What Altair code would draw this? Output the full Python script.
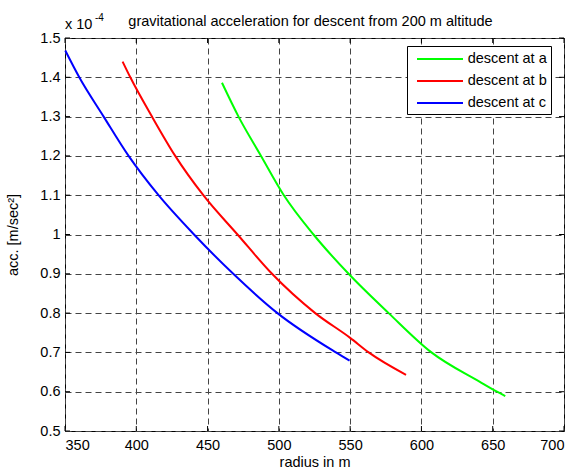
import altair as alt
import pandas as pd

# ---- data (acceleration in units of 1e-4 m/sec^2) ----
series_names = ["descent at a", "descent at b", "descent at c"]
series_colors = ["#00ff00", "#ff0000", "#0000ff"]

radius_a = [460.1, 471.7, 487.5, 503.5, 524.3, 548.9, 577.0, 607.0, 641.0, 653.0, 658.8]
acc_a = [1.386, 1.30, 1.20, 1.10, 1.00, 0.90, 0.80, 0.70, 0.625, 0.60, 0.589]

radius_b = [390.4, 395.8, 411.0, 427.3, 447.0, 471.0, 495.2, 525.5, 550.0, 563.0, 589.2]
acc_b = [1.440, 1.40, 1.30, 1.20, 1.10, 1.00, 0.90, 0.80, 0.737, 0.70, 0.643]

radius_c = [350.2, 360.0, 377.1, 394.6, 415.6, 440.5, 468.0, 499.0, 540.0, 549.6]
acc_c = [1.468, 1.40, 1.30, 1.20, 1.10, 1.00, 0.90, 0.80, 0.70, 0.679]

x_ticks = [350, 400, 450, 500, 550, 600, 650, 700]
y_ticks = [0.5, 0.6, 0.7, 0.8, 0.9, 1.0, 1.1, 1.2, 1.3, 1.4, 1.5]

title_text = "gravitational acceleration for descent from 200 m altitude"
x_title = "radius in m"
y_title = "acc. [m/sec²]"

# ---- tables built from the arrays ----
rows = []
for name, rs, accs in zip(series_names, [radius_a, radius_b, radius_c], [acc_a, acc_b, acc_c]):
    for r, a in zip(rs, accs):
        rows.append({"series": name, "radius": r, "acc": a})
df = pd.DataFrame(rows)
xt = pd.DataFrame({"v": x_ticks})
yt = pd.DataFrame({"v": y_ticks})

W, H = 499, 393
FONT = "Liberation Sans"
FS = 14.5
TL = 5  # inward tick length

xscale = alt.Scale(domain=[350, 700], nice=False, zero=False)
yscale = alt.Scale(domain=[0.5, 1.5], nice=False, zero=False)
x_axis = alt.Axis(values=x_ticks, title=x_title, format=".6~g", labelPadding=7, titlePadding=4)
y_axis = alt.Axis(values=y_ticks, title=y_title, format=".6~g", labelPadding=5, titlePadding=19)

lines = alt.Chart(df).mark_line(strokeWidth=2, interpolate="monotone").encode(
    x=alt.X("radius:Q", scale=xscale, axis=x_axis),
    y=alt.Y("acc:Q", scale=yscale, axis=y_axis),
    color=alt.Color("series:N",
                    scale=alt.Scale(domain=series_names, range=series_colors),
                    legend=alt.Legend(
                        orient="none", legendX=342, legendY=8, title=None,
                        symbolType="M-3,0H3", symbolSize=235, symbolStrokeWidth=2,
                        symbolOffset=20, labelOffset=18.7,
                        padding=4, rowPadding=6,
                        strokeColor="black", fillColor="white", cornerRadius=0,
                        labelFont=FONT, labelFontSize=FS, labelColor="black",
                        labelExpr="datum.label + '\u00a0'",
                    )),
)

tick_bottom = alt.Chart(xt).mark_rule(color="black", strokeWidth=1).encode(
    x=alt.X("v:Q", scale=xscale, axis=x_axis), y=alt.value(H), y2=alt.value(H - TL))
tick_top = alt.Chart(xt).mark_rule(color="black", strokeWidth=1).encode(
    x=alt.X("v:Q", scale=xscale, axis=x_axis), y=alt.value(0), y2=alt.value(TL))
tick_left = alt.Chart(yt).mark_rule(color="black", strokeWidth=1).encode(
    y=alt.Y("v:Q", scale=yscale, axis=y_axis), x=alt.value(0), x2=alt.value(TL))
tick_right = alt.Chart(yt).mark_rule(color="black", strokeWidth=1).encode(
    y=alt.Y("v:Q", scale=yscale, axis=y_axis), x=alt.value(W), x2=alt.value(W - TL))

exp_base = alt.Chart(pd.DataFrame({"t": ["x 10"]})).mark_text(
    align="left", baseline="alphabetic", font=FONT, fontSize=FS, color="black"
).encode(x=alt.value(0), y=alt.value(-9), text="t:N")
exp_pow = alt.Chart(pd.DataFrame({"t": ["-4"]})).mark_text(
    align="left", baseline="alphabetic", font=FONT, fontSize=10, color="black"
).encode(x=alt.value(30), y=alt.value(-17), text="t:N")

chart = alt.layer(
    lines, tick_bottom, tick_top, tick_left, tick_right, exp_base, exp_pow
).properties(
    width=W, height=H, background="white",
    title=alt.TitleParams(title_text, font=FONT, fontSize=FS, fontWeight="normal",
                          color="black", anchor="middle", baseline="alphabetic",
                          offset=0, dy=27, dx=-4),
    autosize=alt.AutoSizeParams(type="none"),
    padding={"left": 65, "top": 38, "right": 12, "bottom": 41},
).configure_view(
    stroke="black", strokeWidth=1
).configure_axis(
    domain=False, ticks=False, grid=True,
    gridColor="#444444", gridDash=[6, 4], gridWidth=1, gridOpacity=1,
    labelFont=FONT, labelFontSize=FS, labelColor="black",
    titleFont=FONT, titleFontSize=FS, titleFontWeight="normal", titleColor="black",
)

chart.save("out.html", embed_options={"renderer": "svg", "actions": False})
